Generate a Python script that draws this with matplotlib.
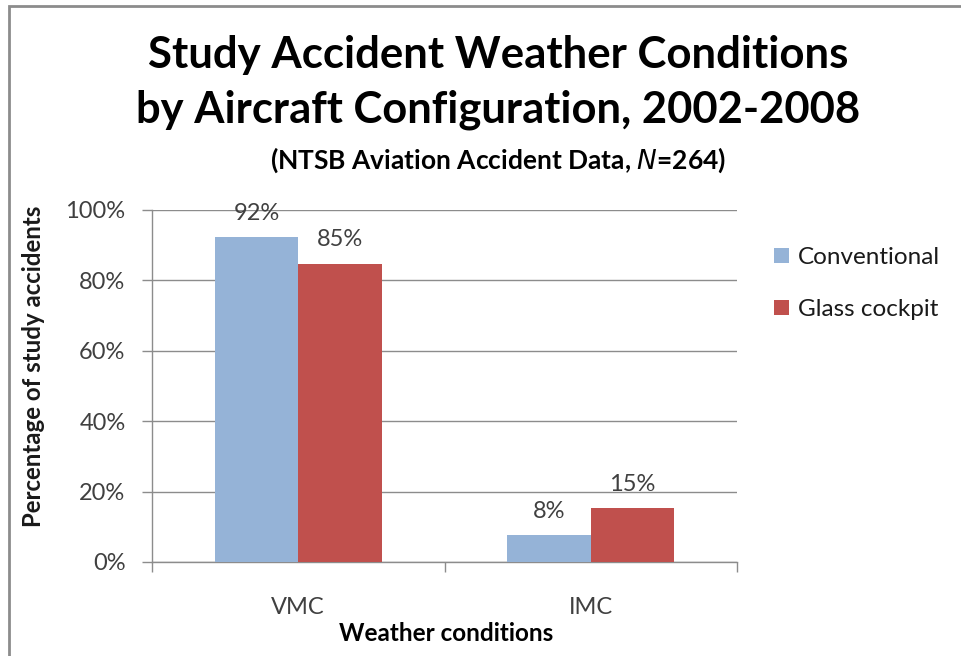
import matplotlib
matplotlib.use("Agg")
import matplotlib.pyplot as plt
from matplotlib.patches import Rectangle
import numpy as np

categories = ["VMC", "IMC"]
series_names = ["Conventional", "Glass cockpit"]
conventional = [92.3, 7.7]
glass = [84.7, 15.3]
conv_labels = ["92%", "8%"]
glass_labels = ["85%", "15%"]
yticks = [0, 20, 40, 60, 80, 100]
ytick_labels = ["0%", "20%", "40%", "60%", "80%", "100%"]

colors = ["#95B3D7", "#C0504D"]
FONT = "Lato"

W, H = 961, 656
fig = plt.figure(figsize=(W / 100, H / 100), dpi=100)
fig.patch.set_facecolor("white")

# outer chart border
fig.add_artist(Rectangle((9 / W, -0.1), 1.2, (H - 6) / H + 0.1, transform=fig.transFigure,
                         fill=False, edgecolor="#8c8c8c", linewidth=2.0, clip_on=False))

ax_l, ax_r, ax_t, ax_b = 152, 737, 210, 562
ax = fig.add_axes([ax_l / W, 1 - ax_b / H, (ax_r - ax_l) / W, (ax_b - ax_t) / H])

x = np.arange(len(categories))
bw = 0.285
b1 = ax.bar(x - bw / 2, conventional, bw, color=colors[0], label=series_names[0], zorder=3)
b2 = ax.bar(x + bw / 2, glass, bw, color=colors[1], label=series_names[1], zorder=3)

for bars, labs in ((b1, conv_labels), (b2, glass_labels)):
    for r, lab in zip(bars, labs):
        ax.annotate(lab, (r.get_x() + r.get_width() / 2, r.get_height()),
                    xytext=(0, 12.5), textcoords="offset points", ha="center", va="baseline",
                    fontsize=17, color="#404040", family=FONT, zorder=5)

ax.set_xlim(-0.5, 1.5)
ax.set_ylim(0, 100)
ax.set_yticks(yticks)
ax.set_yticklabels(ytick_labels, fontsize=17, color="#404040", family=FONT)
ax.yaxis.grid(True, color="#8c8c8c", linewidth=1.0, zorder=0)
ax.set_axisbelow(True)

ax.set_xticks([-0.5, 0.5, 1.5])
ax.set_xticklabels([])
ax.set_xticks(x, minor=True)
ax.set_xticklabels(categories, minor=True, fontsize=17, color="#404040", family=FONT)
ax.tick_params(axis="x", which="minor", length=0, pad=25)
ax.tick_params(axis="x", which="major", length=7, color="#8c8c8c", width=1)
ax.tick_params(axis="y", length=7, color="#8c8c8c", width=1, pad=12)

for s in ("top", "right"):
    ax.spines[s].set_visible(False)
for s in ("left", "bottom"):
    ax.spines[s].set_color("#8c8c8c")
    ax.spines[s].set_linewidth(1.0)

ax.set_ylabel("Percentage of study accidents", fontsize=17.3, fontweight="bold",
              family=FONT, color="#1a1a1a", va="center")
ax.yaxis.set_label_coords((34 - ax_l) / (ax_r - ax_l), (ax_b - 366) / (ax_b - ax_t))
ax.set_xlabel("Weather conditions", fontsize=17.5, fontweight="bold", family=FONT,
              color="#000000", va="baseline")
ax.xaxis.set_label_coords((446 - ax_l) / (ax_r - ax_l), (ax_b - 641) / (ax_b - ax_t))

fig.text(498 / W, 1 - 55 / H, "Study Accident Weather Conditions", ha="center", va="center",
         fontsize=31.5, fontweight="bold", family=FONT)
fig.text(498 / W, 1 - 110 / H, "by Aircraft Configuration, 2002-2008", ha="center", va="center",
         fontsize=31.3, fontweight="bold", family=FONT)
fig.text(498 / W, 1 - 160 / H, r"(NTSB Aviation Accident Data, $\bf{\it{N}}$=264)", ha="center",
         va="center", fontsize=19, fontweight="bold", family=FONT)

ax.legend(loc="upper left", bbox_to_anchor=(774 / W, 1 - 247 / H), bbox_transform=fig.transFigure,
          frameon=False, prop={"family": FONT, "size": 17.5}, handlelength=0.6, handleheight=0.6,
          handletextpad=0.37, labelspacing=1.27, borderpad=0, borderaxespad=0,
          labelcolor="#1a1a1a")

fig.savefig("out.png", dpi=100)
